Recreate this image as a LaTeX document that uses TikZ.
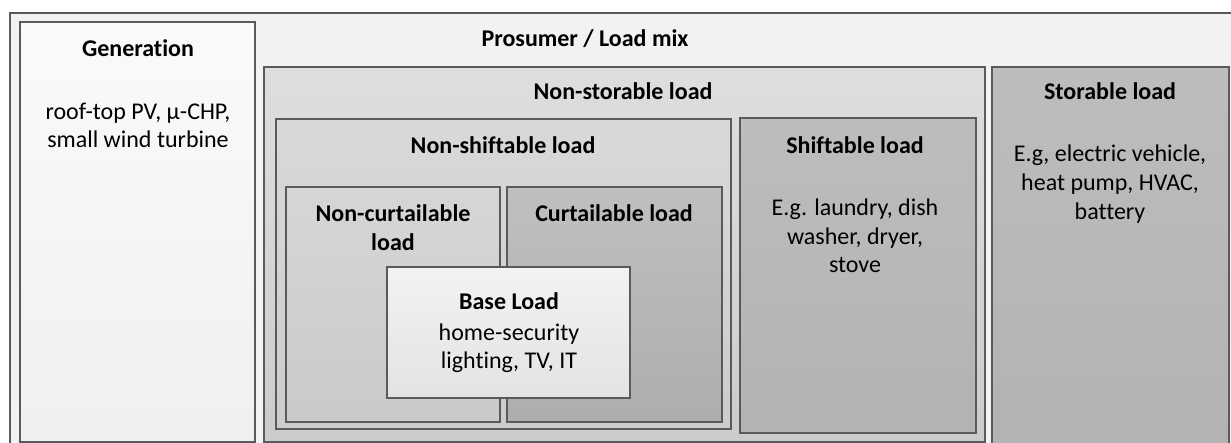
\documentclass[tikz,border=0pt]{standalone}
\usepackage{fontspec}
\setmainfont{Carlito}[Ligatures=NoCommon]
\usetikzlibrary{fit,shadows}
\definecolor{boxline}{HTML}{5A5A5A}
\begin{document}
\begin{tikzpicture}[x=1pt,y=-1pt,
  box/.style={draw=boxline, line width=1.2pt, inner sep=0pt,
    drop shadow={shadow xshift=1.3pt, shadow yshift=-1.3pt, opacity=0.18, fill=black}},
  shade2/.style 2 args={top color=#1, bottom color=#2},
  hd/.style={font=\fontsize{24}{28.5}\selectfont\bfseries, anchor=base, inner sep=0pt},
  txt/.style={font=\fontsize{24}{28.8}\selectfont, anchor=base, inner sep=0pt, align=center}
]
\useasboundingbox (0,0) rectangle (1231,443);
\fill[white] (0,0) rectangle (1231,443);

% outer frame and the generation column
\node[box, fill=black!5, fit={(10,13) (1260,470)}] (outer) {};
\node[box, shade2={white!98!black}{black!6}, fit={(20,22) (255,442)}] (gen) {};

% prosumer load hierarchy
\node[box, shade2={black!13}{black!20}, fit={(264,67) (985,442)}] (nonstor) {};
\node[box, shade2={black!26}{black!30}, fit={(992,67) (1229,460)}] (stor) {};
\node[box, shade2={black!15}{black!20}, fit={(276,119) (731,429)}] (nonshift) {};
\node[box, shade2={black!26}{black!30}, fit={(740,118) (976,433)}] (shift) {};
\node[box, shade2={black!16}{black!21}, fit={(286,187) (500,422)}] (noncurt) {};
\node[box, shade2={black!25}{black!32}, fit={(507,187) (722,422)}] (curt) {};
\node[box, shade2={black!5}{black!11}, fit={(387,267) (630,398)}] (base) {};

% titles (multi-line nodes are anchored at the baseline of their last line)
\node[hd] (gen-t) at (138,57) {Generation};
\node[hd] (mix-t) at (585,47) {Prosumer / Load mix};
\node[hd] (nonstor-t) at (623,100) {Non-storable load};
\node[hd] (stor-t) at (1110,100) {Storable load};
\node[hd] (nonshift-t) at (503,154) {Non-shiftable load};
\node[hd] (shift-t) at (855,154) {Shiftable load};
\node[hd, align=center] (noncurt-t) at (393,250.5) {Non-curtailable\\load};
\node[hd] (curt-t) at (614,222) {Curtailable load};
\node[hd] (base-t) at (509,310) {Base Load};

% examples
\node[txt] (gen-x) at (138,148) {roof-top PV, µ-CHP,\\small wind turbine};
\node[txt] (shift-x) at (855,273) {E.g. laundry, dish\\washer, dryer,\\stove};
\node[txt] (stor-x) at (1110,219.5) {E.g, electric vehicle,\\heat pump, HVAC,\\battery};
\node[txt] (base-x) at (509,369) {home-security\\lighting, TV, IT};
\end{tikzpicture}
\end{document}
